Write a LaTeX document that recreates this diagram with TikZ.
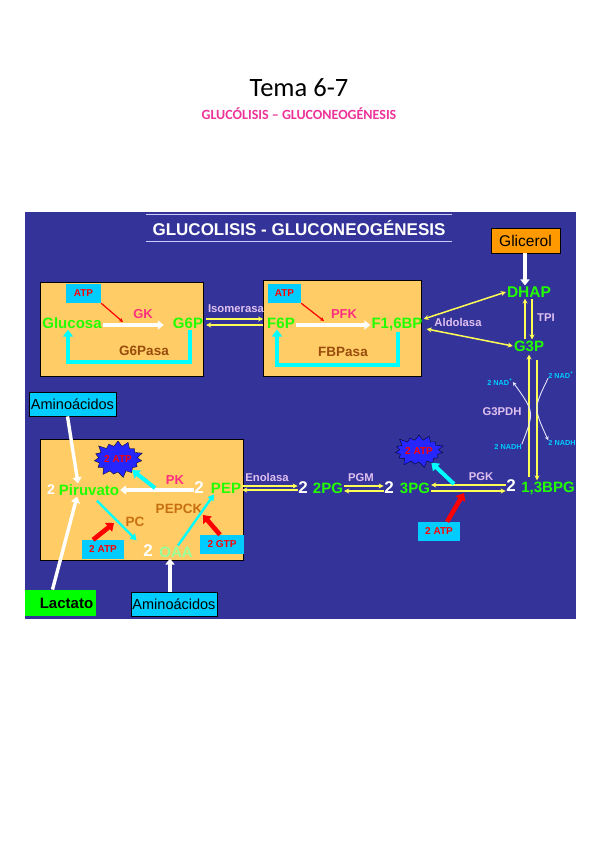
\documentclass[tikz,border=0pt]{standalone}
\usepackage{fontspec}
\setmainfont{Liberation Sans}
\newfontfamily\carlito{Carlito}
\usetikzlibrary{positioning,shapes.symbols,arrows.meta}
\definecolor{panelblue}{HTML}{333399}
\definecolor{boxorange}{HTML}{FFCC66}
\definecolor{cofcyan}{HTML}{00CCFF}
\definecolor{arrcyan}{HTML}{00FFFF}
\definecolor{metagreen}{HTML}{22FF00}
\definecolor{enzpink}{HTML}{FF2F80}
\definecolor{subpink}{HTML}{EE3399}
\definecolor{paleyel}{HTML}{FFFF55}
\definecolor{palelila}{HTML}{E0C0F0}
\definecolor{pasabrown}{HTML}{994D0D}
\definecolor{pcorange}{HTML}{C87010}
\tikzset{
  % --- boxes -----------------------------------------------------------------
  regbox/.style={rectangle,draw=black,fill=boxorange,line width=0.8pt,anchor=north west,inner sep=0pt},
  cof/.style={rectangle,fill=cofcyan,inner sep=0pt,text=red,font=\fontsize{10}{12}\selectfont\bfseries},
  srcbox/.style={rectangle,draw=black,line width=0.8pt,inner sep=0pt,text=black,font=\fontsize{14.5}{16}\selectfont},
  burst/.style={starburst,starburst points=15,starburst point height=7pt,fill=blue!85!white,draw=black,
                line width=0.3pt,inner sep=0pt,text=red,font=\fontsize{10}{12}\selectfont\bfseries},
  % --- texts -----------------------------------------------------------------
  meta/.style={text=metagreen,inner sep=1pt,font=\fontsize{15}{17}\selectfont\bfseries},
  num/.style={text=white,inner sep=0.5pt,font=\fontsize{17}{19}\selectfont\bfseries},
  enz/.style={text=enzpink,inner sep=0pt,font=\fontsize{13}{15}\selectfont\bfseries},
  pasa/.style={text=pasabrown,inner sep=0pt,font=\fontsize{13.5}{15}\selectfont\bfseries},
  lila/.style={text=palelila,inner sep=0pt,font=\fontsize{11.3}{13}\selectfont\bfseries},
  nad/.style={text=cofcyan,inner sep=0pt,font=\fontsize{7.3}{8}\selectfont\bfseries},
  % --- arrows ----------------------------------------------------------------
  whitearr/.style={-{Triangle[length=6pt,width=9pt]},white,line width=3.4pt},
  cyanarr/.style={-{Triangle[length=7pt,width=10pt]},arrcyan,line width=3.4pt},
  cyanthin/.style={-{Triangle[length=6pt,width=7pt]},arrcyan,line width=2.4pt},
  redarr/.style={-{Triangle[length=7pt,width=11pt]},red,line width=4.6pt},
  redline/.style={-{Stealth[length=4pt,width=4pt]},red,line width=1.2pt},
  yel/.style={-{Stealth[length=5pt,width=5pt]},paleyel,line width=1.5pt},
  yelboth/.style={{Stealth[length=5pt,width=5pt]}-{Stealth[length=5pt,width=5pt]},paleyel,line width=1.5pt},
  nadarr/.style={-{Stealth[length=4pt,width=4pt]},white!90!blue,line width=0.9pt},
}
\begin{document}
\begin{tikzpicture}[x=1pt,y=-1pt]
  \useasboundingbox (0,0) rectangle (599,848);
  \fill[white] (0,0) rectangle (599,848);
  % heading
  \node[inner sep=0pt,font=\carlito\fontsize{26.5}{28}\selectfont] (tema) at (299,88) {Tema 6-7};
  \node[inner sep=0pt,text=subpink,font=\carlito\bfseries\fontsize{14}{16}\selectfont] (sub) at (299,114) {GLUCÓLISIS – GLUCONEOGÉNESIS};

  \node[rectangle,fill=panelblue,minimum width=551pt,minimum height=407pt,anchor=north west,inner sep=0pt] (panel) at (25,212) {};
  \node[inner sep=0pt,text=white,font=\fontsize{17}{19}\selectfont\bfseries] (titulo) at (299,228) {GLUCOLISIS - GLUCONEOGÉNESIS};
  \coordinate (rl) at (146,214.5); \coordinate (rr) at (452,214.5);
  \coordinate (sl) at (146,241);   \coordinate (sr) at (452,241);
  \draw[white!80!blue,line width=1pt] (rl) -- (rr);
  \draw[white!80!blue,line width=1pt] (sl) -- (sr);

  \node[regbox,minimum width=163pt,minimum height=94pt] (hexo) at (40,282) {};
  \node[regbox,minimum width=158pt,minimum height=96pt] (fruc) at (263,280) {};
  \node[regbox,minimum width=203pt,minimum height=121pt] (piru) at (40,439) {};

  % first box
  \node[meta] (glucosa) at (72,323) {Glucosa};
  \node[meta] (g6p) at (188,323) {G6P};
  \node[cof,minimum width=35pt,minimum height=19pt] (atpa) at (83.5,293.5) {ATP};
  \node[enz] (gk) at (143,314) {GK};
  \node[pasa] (g6pasa) at (144,351) {G6Pasa};
  \coordinate (gka) at (123,322);
  \coordinate (ca) at (68,362);
  \draw[whitearr] ([yshift=-2pt]glucosa.east) -- ([yshift=-2pt,xshift=-8pt]g6p.west);
  \draw[redline] (atpa.south east) -- (gka);
  \draw[cyanarr] ([xshift=2pt]g6p.south) |- (ca) -- ([xshift=-4pt]glucosa.south);

  % second box
  \node[meta] (f6p) at (281,323) {F6P};
  \node[meta] (f16bp) at (397,324) {F1,6BP};
  \node[cof,minimum width=33pt,minimum height=19pt] (atpb) at (284.5,293.5) {ATP};
  \node[enz] (pfk) at (344,314) {PFK};
  \node[pasa] (fbpasa) at (343,352) {FBPasa};
  \coordinate (gkb) at (324,321);
  \coordinate (cb) at (277,365);
  \draw[whitearr] ([yshift=-2pt]f6p.east) -- ([yshift=-1pt]f16bp.west);
  \draw[redline] (atpb.south east) -- (gkb);
  \draw[cyanarr] ([xshift=1pt]f16bp.south) |- (cb) -- ([xshift=-4pt]f6p.south);

  \node[lila] (isom) at (236,309) {Isomerasa};
  \draw[yel] ([yshift=4pt,xshift=2pt]g6p.east) -- ([yshift=4pt,xshift=-3pt]f6p.west);
  \draw[yel] ([yshift=-2pt,xshift=-3pt]f6p.west) -- ([yshift=-2pt,xshift=2pt]g6p.east);

  % right column
  \node[srcbox,fill=orange!80!yellow,minimum width=69pt,minimum height=25pt,font=\fontsize{15.5}{17}\selectfont] (glicerol) at (525.5,240.5) {Glicerol};
  \node[meta,font=\fontsize{15.5}{17}\selectfont\bfseries] (dhap) at (529,292) {DHAP};
  \node[meta] (g3p) at (529,346) {G3P};
  \node[lila] (tpi) at (546,318) {TPI};
  \node[lila] (aldo) at (458,322) {Aldolasa};
  \draw[whitearr] ([xshift=-0.5pt]glicerol.south) -- ([xshift=-4pt]dhap.north);
  \draw[yelboth] (dhap.west) -- ([yshift=5pt]f16bp.east);
  \draw[yelboth] (g3p.west) -- ([yshift=-5pt,xshift=3pt]f16bp.east);
  \draw[yel] ([xshift=-4pt]g3p.north) -- ([xshift=-4pt]dhap.south);
  \draw[yel] ([xshift=3pt]dhap.south) -- ([xshift=3pt]g3p.north);

  % G3PDH
  \node[meta] (bpg) at (548,488) {1,3BPG};
  \node[num] (nbpg) at (511,486) {2};
  \node[lila] (g3pdh) at (502,412) {G3PDH};
  \node[nad] (nada) at (500,382) {2 NAD\textsuperscript{+}};
  \node[nad] (nadb) at (561,375) {2 NAD\textsuperscript{+}};
  \node[nad] (nadha) at (508,447) {2 NADH};
  \node[nad] (nadhb) at (562,443) {2 NADH};
  \coordinate (nbot) at (529,477);
  \coordinate (ntop) at (537,360);
  \coordinate (nbend) at (534.5,412);
  \coordinate (mbend) at (533.5,408);
  \draw[yel,line width=1.7pt] (nbot) -- ([yshift=-2pt]g3p.south);
  \draw[yel,line width=1.7pt] (ntop) -- ([xshift=-11pt]bpg.north);
  \draw[nadarr] (nadha.north east) .. controls (nbend) and (nbend) .. (nada.east);
  \draw[nadarr] (nadb.south west) .. controls (mbend) and (mbend) .. (nadhb.north west);

  % bottom row
  \node[num] (npg) at (303,488) {2};
  \node[meta] (pg2) at (328,488) {2PG};
  \node[num] (ntpg) at (389,488) {2};
  \node[meta] (pg3) at (415,488) {3PG};
  \node[lila] (pgm) at (361,478) {PGM};
  \node[lila] (pgk) at (481,477) {PGK};
  \draw[yel] ([yshift=2pt]pg2.east) -- ([yshift=2pt]ntpg.west);
  \draw[yel] ([yshift=-3pt]ntpg.west) -- ([yshift=-3pt]pg2.east);
  \draw[yel] ([yshift=1pt]nbpg.west) -- ([yshift=3pt]pg3.east);
  \draw[yel] ([yshift=-3pt]pg3.east) -- ([yshift=-5pt]nbpg.west);
  \node[burst,minimum width=40pt,minimum height=36pt] (burstb) at (419,451) {2 ATP};
  \node[cof,minimum width=42pt,minimum height=19pt] (atpc) at (439,531.5) {2 ATP};
  \coordinate (pgkup) at (454,484);
  \coordinate (pgkdn) at (464,493);
  \draw[cyanarr,line width=4pt] (pgkup) -- (burstb);
  \draw[redarr] ([xshift=8pt]atpc.north) -- (pgkdn);

  % third box
  \node[num,font=\fontsize{14}{16}\selectfont\bfseries,text=white] (npir) at (51,490) {2};
  \node[meta] (piruvato) at (89,490) {Piruvato};
  \node[num] (npep) at (199,488) {2};
  \node[meta] (pep) at (226,488) {PEP};
  \node[num] (noaa) at (148,551) {2};
  \node[meta,text=green!40!white] (oaa) at (176,552) {OAA};
  \node[enz] (pk) at (175,480) {PK};
  \node[pasa,text=pcorange] (pepck) at (179,509) {PEPCK};
  \node[pasa,text=pcorange] (pc) at (135,522) {PC};
  \node[burst,minimum width=42pt,minimum height=40pt] (bursta) at (118,459) {2 ATP};
  \node[cof,minimum width=42pt,minimum height=19pt] (atpd) at (103,549.5) {2 ATP};
  \node[cof,minimum width=44pt,minimum height=19pt] (gtp) at (222,544.5) {2 GTP};
  \node[lila] (enol) at (267,477) {Enolasa};
  \coordinate (pkm) at (155,488);
  \coordinate (atpdn) at (114,523);
  \coordinate (gtpdn) at (203,515);
  \draw[whitearr] ([yshift=-2pt]npep.west) -- (piruvato.east);
  \draw[cyanarr,line width=4pt] (pkm) -- (bursta);
  \draw[cyanthin] ([xshift=8pt,yshift=-4pt]piruvato.south) -- ([xshift=-6pt,yshift=4pt]noaa.north west);
  \draw[cyanthin] ([xshift=2pt]oaa.north) -- ([xshift=-12pt]pep.south);
  \draw[redarr] ([xshift=-10pt]atpd.north) -- (atpdn);
  \draw[redarr] ([xshift=-2pt]gtp.north) -- (gtpdn);
  \draw[yel] ([yshift=2pt]pep.east) -- ([yshift=2pt]npg.west);
  \draw[yel] ([yshift=-2pt]npg.west) -- ([yshift=-2pt]pep.east);

  % entry boxes
  \node[srcbox,fill=cofcyan,minimum width=87pt,minimum height=24pt] (aminoa) at (72.5,404) {Aminoácidos};
  \node[srcbox,fill=cofcyan,minimum width=86pt,minimum height=24pt] (aminob) at (174,604) {Aminoácidos};
  \node[srcbox,fill=green,draw=none,minimum width=71pt,minimum height=26pt,font=\fontsize{15}{17}\selectfont\bfseries] (lactato) at (60.5,603) {\hspace{12pt}Lactato};
  \draw[whitearr] ([xshift=-5pt]aminoa.south) -- ([xshift=-11pt]piruvato.north);
  \draw[whitearr] ([xshift=-8pt]lactato.north) -- ([xshift=-12pt]piruvato.south);
  \draw[whitearr] ([xshift=-4pt]aminob.north) -- ([xshift=-6pt]oaa.south);
\end{tikzpicture}
\end{document}
